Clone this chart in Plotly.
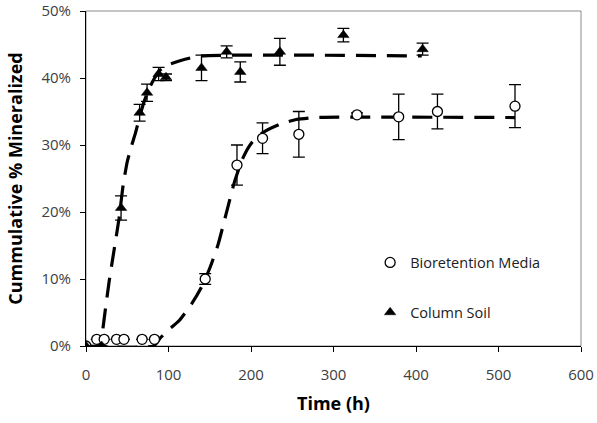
import plotly.graph_objects as go

# Measured mineralization (%) with error (%), bioretention media
bio_time = [0, 13, 22, 37, 46, 68, 83, 144.5, 183, 214, 258, 328.5, 379, 426, 520]
bio_min = [0, 1, 1, 1, 1, 1, 1, 10, 27, 31, 31.6, 34.5, 34.2, 35, 35.8]
bio_err = [0, 0, 0, 0, 0, 0, 0, 0.8, 3, 2.3, 3.4, 0.3, 3.4, 2.6, 3.2]

# Measured mineralization (%) with error (%), column soil
soil_time = [0, 19, 42.5, 65, 74, 88, 97, 140, 170.5, 187, 235, 312, 408]
soil_min = [0, 0, 20.6, 34.8, 37.8, 40.6, 40.1, 41.5, 43.9, 40.9, 43.9, 46.4, 44.3]
soil_err = [0, 0, 1.8, 1.25, 1.3, 1.0, 0.5, 1.9, 0.9, 1.5, 2.0, 1.0, 0.9]

# Fitted model curves
bio_fit_t = [0, 82, 90, 100, 113, 128, 140, 150, 160, 170, 180, 190, 200, 215, 235, 255, 280, 520]
bio_fit_y = [0, 0, 1.2, 2.4, 3.8, 6.3, 8.8, 11.6, 15.1, 19.8, 24.5, 28, 30.2, 31.9, 33.1, 33.8, 34.1, 34.1]
soil_fit_t = [0, 15, 19, 23, 28, 34, 40, 45, 50, 55, 60, 65, 70, 75, 80, 90, 100, 120, 140, 407]
soil_fit_y = [0, 0, 1.4, 5, 9.6, 14.3, 19, 24, 27.5, 29.8, 31.8, 34.2, 36.3, 38, 39.3, 41.2, 42.0, 42.8, 43.3, 43.3]

x_ticks = [0, 100, 200, 300, 400, 500, 600]
y_ticks = [0, 10, 20, 30, 40, 50]
y_tick_text = ["0%", "10%", "20%", "30%", "40%", "50%"]

FONT = "Open Sans"
dash = "20px,11px"

fig = go.Figure()

fig.add_trace(go.Scatter(
    x=soil_fit_t, y=soil_fit_y, mode="lines", showlegend=False, hoverinfo="skip",
    line=dict(color="black", width=3.2, dash=dash, shape="spline", smoothing=0.5),
))
fig.add_trace(go.Scatter(
    x=bio_fit_t, y=bio_fit_y, mode="lines", showlegend=False, hoverinfo="skip",
    line=dict(color="black", width=3.2, dash=dash, shape="spline", smoothing=0.5),
))

fig.add_trace(go.Scatter(
    x=bio_time, y=bio_min, mode="markers", name="Bioretention Media",
    legendgroup="bio",
    marker=dict(symbol="circle", size=10, color="white",
                line=dict(color="black", width=1.3)),
    error_y=dict(type="data", array=bio_err, visible=True,
                 color="black", thickness=1.3, width=6),
))
fig.add_trace(go.Scatter(
    x=soil_time, y=soil_min, mode="markers", name="Column Soil",
    legendgroup="soil",
    marker=dict(symbol="triangle-up", size=10, color="black",
                line=dict(color="black", width=0.5)),
    error_y=dict(type="data", array=soil_err, visible=True,
                 color="black", thickness=1.3, width=6),
))

# light frame on top and right edges of the plot area
fig.add_shape(type="rect", xref="paper", yref="paper", x0=0, y0=0, x1=1, y1=1,
              line=dict(color="#8a8a8a", width=1), layer="below")

fig.update_layout(
    width=597, height=423,
    margin=dict(l=86, r=16, t=11, b=77),
    plot_bgcolor="white", paper_bgcolor="white",
    font=dict(family=FONT, color="#404040"),
    showlegend=True,
    legend=dict(
        x=0.574, y=0.297, xanchor="left", yanchor="top",
        bgcolor="rgba(0,0,0,0)", borderwidth=0,
        font=dict(family=FONT, size=14.5, color="#202020"),
        traceorder="grouped", tracegroupgap=28, itemwidth=30,
    ),
    xaxis=dict(
        range=[0, 600], tickvals=x_ticks, showgrid=False, zeroline=False,
        showline=True, linecolor="black", linewidth=1, automargin=False,
        ticks="outside", ticklen=5, tickcolor="black",
        tickfont=dict(family=FONT, size=15, color="#404040"),
        ticklabelstandoff=10,
        title=dict(text="<b>Time (h)</b>", font=dict(family=FONT, size=18, color="black"),
                   standoff=14),
    ),
    yaxis=dict(
        range=[0, 50], tickvals=y_ticks, ticktext=y_tick_text, showgrid=False,
        zeroline=False, showline=True, linecolor="black", linewidth=1, automargin=False,
        ticks="outside", ticklen=5, tickcolor="black",
        tickfont=dict(family=FONT, size=15, color="#404040"),
        ticklabelstandoff=6,
        title=dict(text="<b>Cummulative % Mineralized</b>",
                   font=dict(family=FONT, size=18, color="black"), standoff=14),
    ),
)

fig.write_html("out.html")
